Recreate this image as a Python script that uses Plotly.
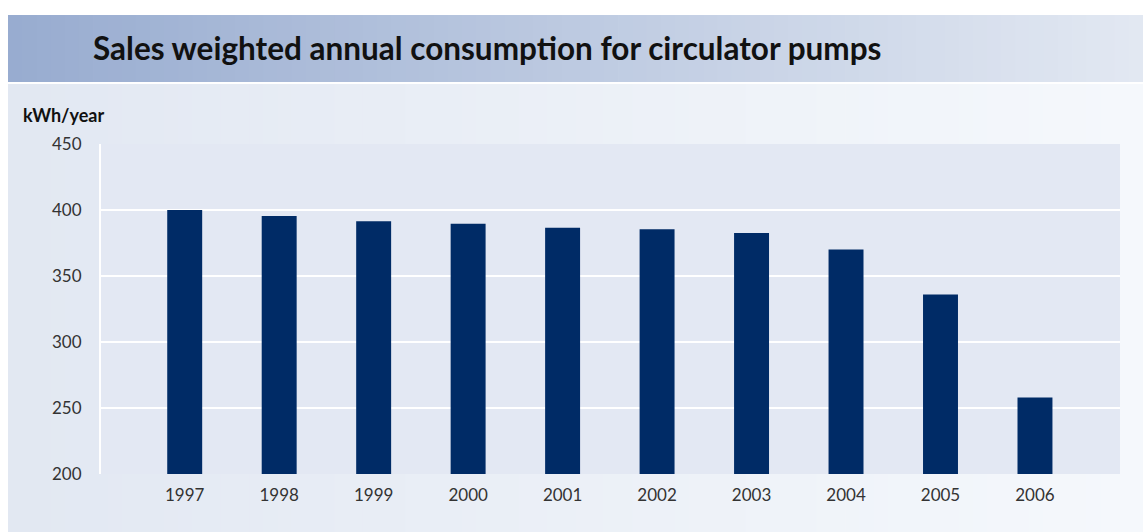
import plotly.graph_objects as go

years = ["1997", "1998", "1999", "2000", "2001", "2002", "2003", "2004", "2005", "2006"]
consumption = [400, 395.5, 391.5, 389.5, 386.5, 385.5, 382.5, 370, 336, 258]
y_ticks = [200, 250, 300, 350, 400, 450]

W, H = 1143, 532
L, R, T, B = 101, 1120, 144, 474  # plot area in pixels


def px(x):
    return (x - L) / (R - L)


def py(y):
    return (B - y) / (B - T)


def lerp(c1, c2, t):
    return "rgb(%d,%d,%d)" % tuple(round(a + (b - a) * t) for a, b in zip(c1, c2))


shapes = []
n = 80
bx0, bx1 = 8, W
# banner gradient
for i in range(n):
    x0 = bx0 + (bx1 - bx0) * i / n
    x1 = bx0 + (bx1 - bx0) * (i + 1) / n + 0.8
    shapes.append(dict(type="rect", xref="paper", yref="paper", layer="below",
                       x0=px(x0), x1=px(x1), y0=py(82), y1=py(15),
                       fillcolor=lerp((152, 172, 208), (226, 232, 242), i / (n - 1)),
                       line=dict(width=0)))
# lower panel gradient
for i in range(n):
    x0 = bx0 + (bx1 - bx0) * i / n
    x1 = bx0 + (bx1 - bx0) * (i + 1) / n + 0.8
    shapes.append(dict(type="rect", xref="paper", yref="paper", layer="below",
                       x0=px(x0), x1=px(x1), y0=py(H), y1=py(84),
                       fillcolor=lerp((226, 232, 242), (245, 248, 252), i / (n - 1)),
                       line=dict(width=0)))
# plot area background
shapes.append(dict(type="rect", xref="paper", yref="paper", layer="below",
                   x0=0, x1=1, y0=0, y1=1, fillcolor="#e3e8f3", line=dict(width=0)))

fig = go.Figure(go.Bar(
    x=years, y=consumption, marker=dict(color="#002b66", line=dict(width=0)),
    width=0.37, hoverinfo="x+y",
))

fig.update_layout(
    width=W, height=H,
    margin=dict(l=L, r=W - R, t=T, b=H - B, pad=0),
    paper_bgcolor="white",
    plot_bgcolor="rgba(0,0,0,0)",
    shapes=shapes,
    showlegend=False,
    font=dict(family="Lato, 'Open Sans', sans-serif", color="#333333", size=17),
    xaxis=dict(type="category", range=[-0.886, 9.9], showgrid=False, zeroline=False,
               showline=False, ticks="", ticklabelstandoff=9, tickfont=dict(size=17)),
    yaxis=dict(range=[200, 450], tickvals=y_ticks, showgrid=True, gridcolor="white",
               gridwidth=2, zeroline=False, showline=True, linecolor="white", linewidth=2,
               ticks="", ticklabelstandoff=14, tickfont=dict(size=17)),
    annotations=[
        dict(text="<b>Sales weighted annual consumption for circulator pumps</b>",
             xref="paper", yref="paper", x=px(91), y=py(48), xanchor="left", yanchor="middle",
             showarrow=False, font=dict(size=31.5, color="#111111", family="Lato, sans-serif")),
        dict(text="<b>kWh/year</b>", xref="paper", yref="paper", x=px(21), y=py(115),
             xanchor="left", yanchor="middle", showarrow=False,
             font=dict(size=18, color="#111111")),
    ],
)

fig.write_html("out.html")
